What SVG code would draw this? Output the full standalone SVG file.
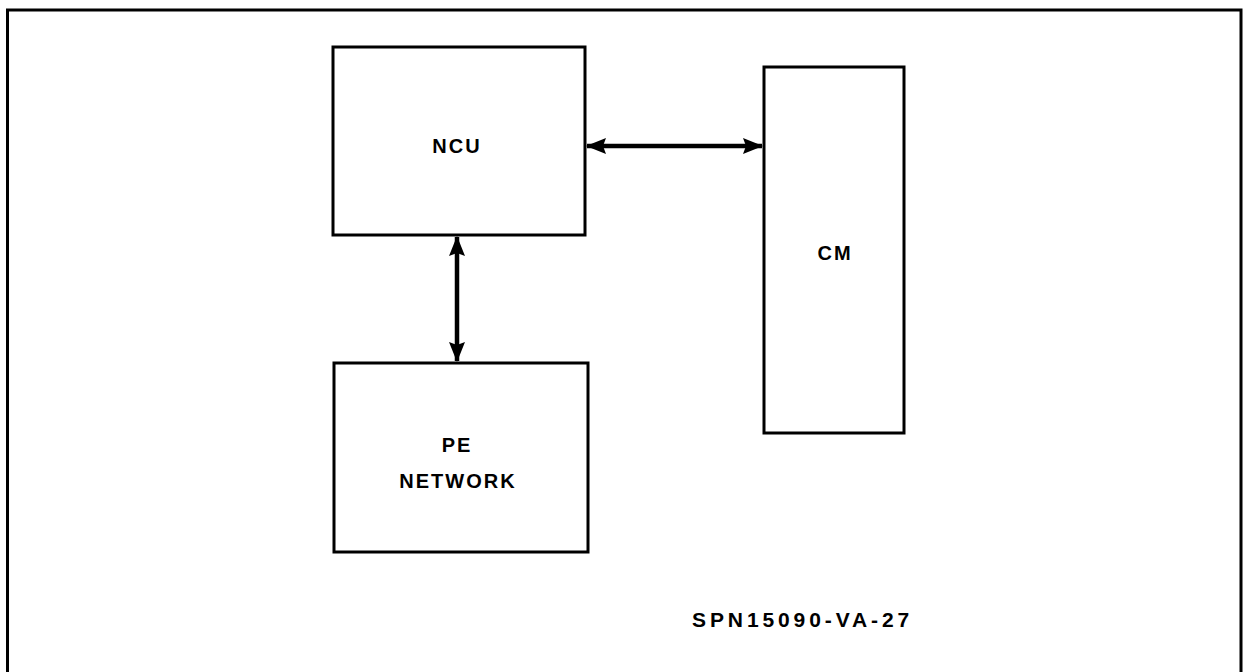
<svg xmlns="http://www.w3.org/2000/svg" width="1243" height="672" viewBox="0 0 1243 672">
  <style>
    .box { fill: #fff; stroke: #000; stroke-width: 3; }
    .lbl { font-family: "Liberation Sans", Arial, sans-serif; font-weight: bold; font-size: 20px; fill: #000; letter-spacing: 2px; }
    .conn { stroke: #000; stroke-width: 4.5; fill: none; }
  </style>
  <defs>
    <marker id="ah" markerUnits="userSpaceOnUse" markerWidth="20" markerHeight="16" viewBox="0 0 20 16" refX="19" refY="8" orient="auto-start-reverse">
      <path d="M0,0 L20,8 L0,16 L3,8 Z" fill="#000"/>
    </marker>
  </defs>
  <rect width="1243" height="672" fill="#fff"/>
  <path d="M7.5,680 L7.5,10 L1241,10 L1241,680" fill="none" stroke="#000" stroke-width="3"/>
  <g id="ncu">
    <rect class="box" x="333" y="47" width="252" height="188"/>
    <text class="lbl" x="457" y="153" text-anchor="middle">NCU</text>
  </g>
  <g id="cm">
    <rect class="box" x="764" y="67" width="140" height="366"/>
    <text class="lbl" x="835" y="260" text-anchor="middle">CM</text>
  </g>
  <g id="pe-network">
    <rect class="box" x="334" y="363" width="254" height="189"/>
    <text class="lbl" x="457" y="452" text-anchor="middle">PE</text>
    <text class="lbl" x="458" y="488" text-anchor="middle">NETWORK</text>
  </g>
  <g id="connectors">
    <line class="conn" x1="587" y1="146" x2="762" y2="146" marker-start="url(#ah)" marker-end="url(#ah)"/>
    <line class="conn" x1="457" y1="237" x2="457" y2="361" marker-start="url(#ah)" marker-end="url(#ah)"/>
  </g>
  <text class="lbl" x="692" y="627" style="font-size:21px;letter-spacing:3.9px">SPN15090-VA-27</text>
</svg>
